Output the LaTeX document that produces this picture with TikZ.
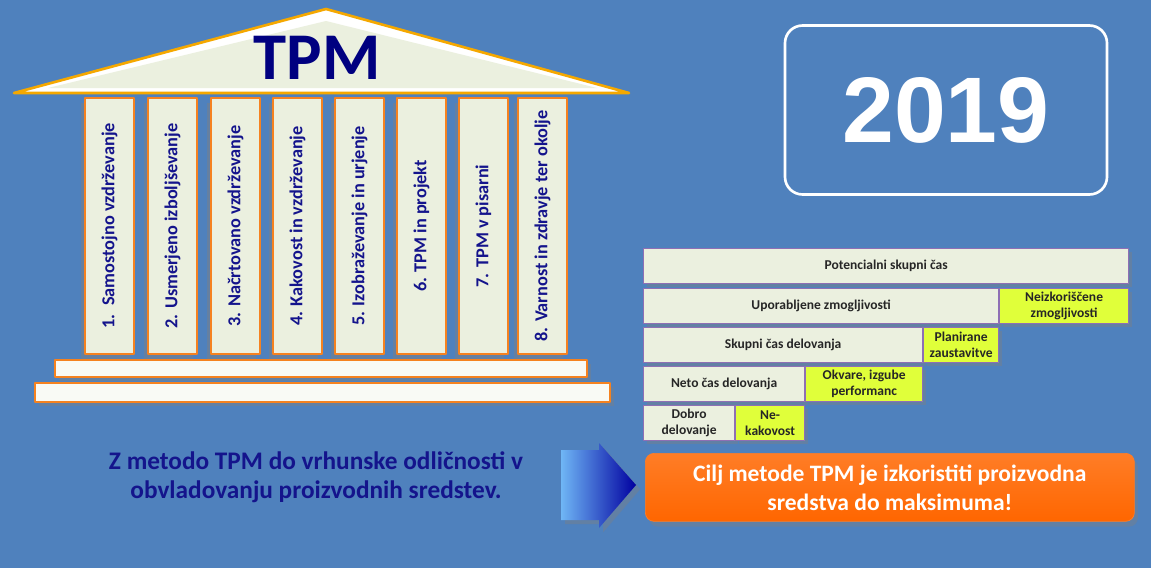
\documentclass[tikz,border=0pt]{standalone}
\usepackage{fontspec}
\setmainfont{Carlito}
\newfontfamily\yearfont{Liberation Sans}
\usetikzlibrary{shadows}
\definecolor{bgblue}{HTML}{4F81BD}
\definecolor{paleface}{HTML}{EBF0DF}
\definecolor{pillarline}{HTML}{F58220}
\definecolor{roofline}{HTML}{F5A800}
\definecolor{navytext}{HTML}{14148C}
\definecolor{barline}{HTML}{8E6FB5}
\definecolor{lossfill}{HTML}{E0FF3A}
\definecolor{goalfill}{HTML}{FF6600}
\definecolor{arrowlight}{HTML}{6FB6F5}
\definecolor{arrowdark}{HTML}{0000A0}

\begin{document}
\begin{tikzpicture}[x=0.02cm,y=-0.02cm,line join=round,
  wh/.style n args={2}{minimum width=#1*0.02cm,minimum height=#2*0.02cm},
  pillar/.style={draw=pillarline,line width=1pt,fill=paleface,rotate=90,inner sep=0pt,
    text=navytext,font=\fontsize{10.4}{12}\selectfont\bfseries,
    drop shadow={opacity=.45,shadow xshift=-2pt,shadow yshift=-3pt}},
  plinth/.style={draw=pillarline,line width=1pt,fill=white!70!paleface,inner sep=0pt,
    drop shadow={opacity=.4,shadow xshift=2pt,shadow yshift=-2pt}},
  bar/.style={draw=barline,line width=.7pt,fill=paleface,anchor=north west,inner sep=1pt,
    align=center,text=black!85,font=\fontsize{7.7}{9}\selectfont\bfseries,
    drop shadow={opacity=.4,shadow xshift=2pt,shadow yshift=-2pt}},
  loss/.style={bar,fill=lossfill}]

\useasboundingbox (0,0) rectangle (1151,568);
\fill[bgblue] (0,0) rectangle (1151,568);

% roof
\draw[roofline,line width=1.5pt,fill=white] (14,93) -- (326,9) -- (629,93) -- cycle;
\fill[paleface] (48,88) -- (326,21) -- (597,88) -- cycle;
\node[text=arrowdark!80!black,font=\fontsize{38}{40}\selectfont\bfseries] (tpm) at (317,58) {TPM};

% pillars
\foreach \x/\t [count=\i] in {85/{1.\enspace Samostojno vzdrževanje},
    148/{2. Usmerjeno izboljševanje},211/{3. Načrtovano vzdrževanje},
    273/{4. Kakovost in vzdrževanje},335/{5. Izobraževanje in urjenje},
    397/{6. TPM in projekt},459/{7. TPM v pisarni},518/{8. Varnost in zdravje ter okolje}}
  \node[pillar,wh={256}{49}] (pillar\i) at (\x+24.5,226) {\t};

\node[plinth,wh={532}{17}] (base1) at (321,368.5) {};
\node[plinth,wh={575}{19}] (base2) at (322.5,392.5) {};

% year
\node[draw=white,line width=1.5pt,rounded corners=10pt,wh={322}{169},
  text=white,font=\yearfont\fontsize{53}{55}\selectfont\bfseries] (year) at (946,110) {2019};

% time bars
\node[bar,wh={485}{35}] (potential) at (643,248) {Potencialni skupni čas};
\node[bar,wh={355}{35}] (used) at (643,288) {Uporabljene zmogljivosti};
\node[loss,wh={129}{35}] (unused) at (999,288) {Neizkoriščene\\zmogljivosti};
\node[bar,wh={279}{35}] (operating) at (643,327) {Skupni čas delovanja};
\node[loss,wh={75}{35}] (planned) at (923,327) {Planirane\\zaustavitve};
\node[bar,wh={161}{35}] (netto) at (643,366) {Neto čas delovanja};
\node[loss,wh={117}{35}] (breakdowns) at (805,366) {Okvare, izgube\\performanc};
\node[bar,wh={91}{35}] (good) at (643,405) {Dobro\\delovanje};
\node[loss,wh={69}{35}] (quality) at (735,405) {Ne-\\kakovost};

% motto and goal
\node[text=navytext,align=center,font=\fontsize{14.4}{16.5}\selectfont\bfseries] (motto) at (316,477)
  {Z metodo TPM do vrhunske odličnosti v\\obvladovanju proizvodnih sredstev.};

\shade[left color=arrowlight,right color=arrowdark,drop shadow={opacity=.4}]
  (561,450) -- (599,450) -- (599,443) -- (636,485) -- (599,528) -- (599,520) -- (561,520) -- cycle;

\node[anchor=north west,wh={489}{68},rounded corners=5pt,draw=goalfill!85!white,
  top color=goalfill!85!white,bottom color=goalfill,text=white,align=center,
  font=\fontsize{13.4}{16.5}\selectfont\bfseries,
  drop shadow={opacity=.4,shadow xshift=2pt,shadow yshift=-3pt}] (goal) at (645,453)
  {Cilj metode TPM je izkoristiti proizvodna\\sredstva do maksimuma!};

\end{tikzpicture}
\end{document}
